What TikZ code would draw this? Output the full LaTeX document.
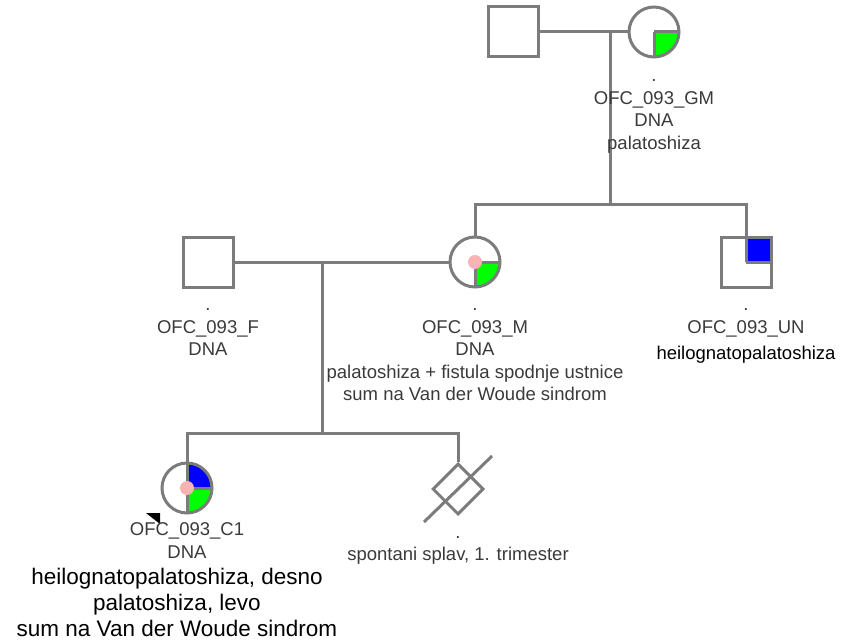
\documentclass[tikz,border=0pt]{standalone}
\usepackage{fontspec}
\setmainfont{Liberation Sans}
\usetikzlibrary{positioning,shapes.geometric}
\definecolor{pedline}{HTML}{7C7C7C}
\definecolor{pedtext}{HTML}{3A3A3A}
\definecolor{affgreen}{HTML}{00FF00}
\definecolor{affblue}{HTML}{0000FF}
\definecolor{carrierpink}{HTML}{F9B3B3}
\newcommand{\quadfill}[2]{\fill[#1] (path picture bounding box.center) rectangle (path picture bounding box.#2);}
\newcommand{\quadline}[1]{\draw[pedline, line width=3pt] (path picture bounding box.center) -- (path picture bounding box.#1);}
\newcommand{\carrierdot}{\fill[carrierpink] (path picture bounding box.center) circle[radius=7pt];}
\tikzset{
  person/.style={draw=pedline, line width=3pt, fill=white, minimum size=50pt, inner sep=0pt},
  male/.style={person, rectangle},
  female/.style={person, circle},
  loss/.style={draw=pedline, line width=3pt, fill=white, diamond, minimum size=51pt, inner sep=0pt},
  rel/.style={draw=pedline, line width=3pt},
  idlabel/.style={text=pedtext, font=\fontsize{18.5}{22.5}\selectfont, align=center, inner sep=0pt},
  dxlabel/.style={text=black, font=\fontsize{22.5}{26}\selectfont, align=center, inner sep=0pt},
}
\begin{document}
\begin{tikzpicture}[x=1pt, y=-1pt]
\useasboundingbox (0,0) rectangle (850,644);

% grandparents
\node[male] (gf) at (513,32) {};
\node[female, path picture={\quadfill{affgreen}{south east}\quadline{east}\quadline{south}}] (gm) at (654,32) {};
\coordinate (gp) at (610,32);
\coordinate (gpsib) at (610,205);

% parents and uncle
\node[male] (f) at (208,262) {};
\node[female, path picture={\quadfill{affgreen}{south east}\quadline{east}\quadline{south}\carrierdot}] (m) at (475,262) {};
\node[male, path picture={\quadfill{affblue}{north east}\quadline{east}\quadline{north}}] (un) at (746,262) {};
\coordinate (fm) at (322,262);
\coordinate (fmsib) at (322,433);

% children
\node[female, path picture={\quadfill{affblue}{north east}\quadfill{affgreen}{south east}\quadline{north}\quadline{south}\quadline{east}\carrierdot}] (c1) at (187,488) {};
\node[loss] (sab) at (458,489) {};

\draw[rel] (gf) -- (gm);
\draw[rel] (gp) -- (gpsib);
\draw[rel] (m.north) -- (m.north |- gpsib) -| (un.north);
\draw[rel] (f) -- (m);
\draw[rel] (fm) -- (fmsib);
\draw[rel] (c1.north) -- (c1.north |- fmsib) -| (sab.north);
\draw[rel] ([shift={(-34pt,-33pt)}]sab.center) -- ([shift={(34pt,33pt)}]sab.center);

% proband mark
\fill[black] (146,513) -- (160,513) -- (160,524) -- cycle;

% labels
\node[idlabel, below=21pt of gm] (gmlbl) {.\\OFC\_093\_GM\\DNA\\palatoshiza};
\node[idlabel, below=20pt of f] (flbl) {.\\OFC\_093\_F\\DNA};
\node[idlabel, below=20pt of m] (mlbl) {.\\OFC\_093\_M\\DNA\\palatoshiza + fistula spodnje ustnice\\sum na Van der Woude sindrom};
\node[idlabel, below=20pt of un] (unlbl) {.\\OFC\_093\_UN};
\node[idlabel, text=black, below=9pt of unlbl] (undx) {heilognatopalatoshiza};
\node[idlabel, below=8pt of c1] (c1lbl) {OFC\_093\_C1\\DNA};
\node[dxlabel, below=10pt of c1lbl, xshift=-10pt] (c1dx) {heilognatopalatoshiza, desno\\palatoshiza, levo\\sum na Van der Woude sindrom};
\node[idlabel, below=20pt of sab] (sablbl) {.\\spontani splav, 1. trimester};
\end{tikzpicture}
\end{document}
